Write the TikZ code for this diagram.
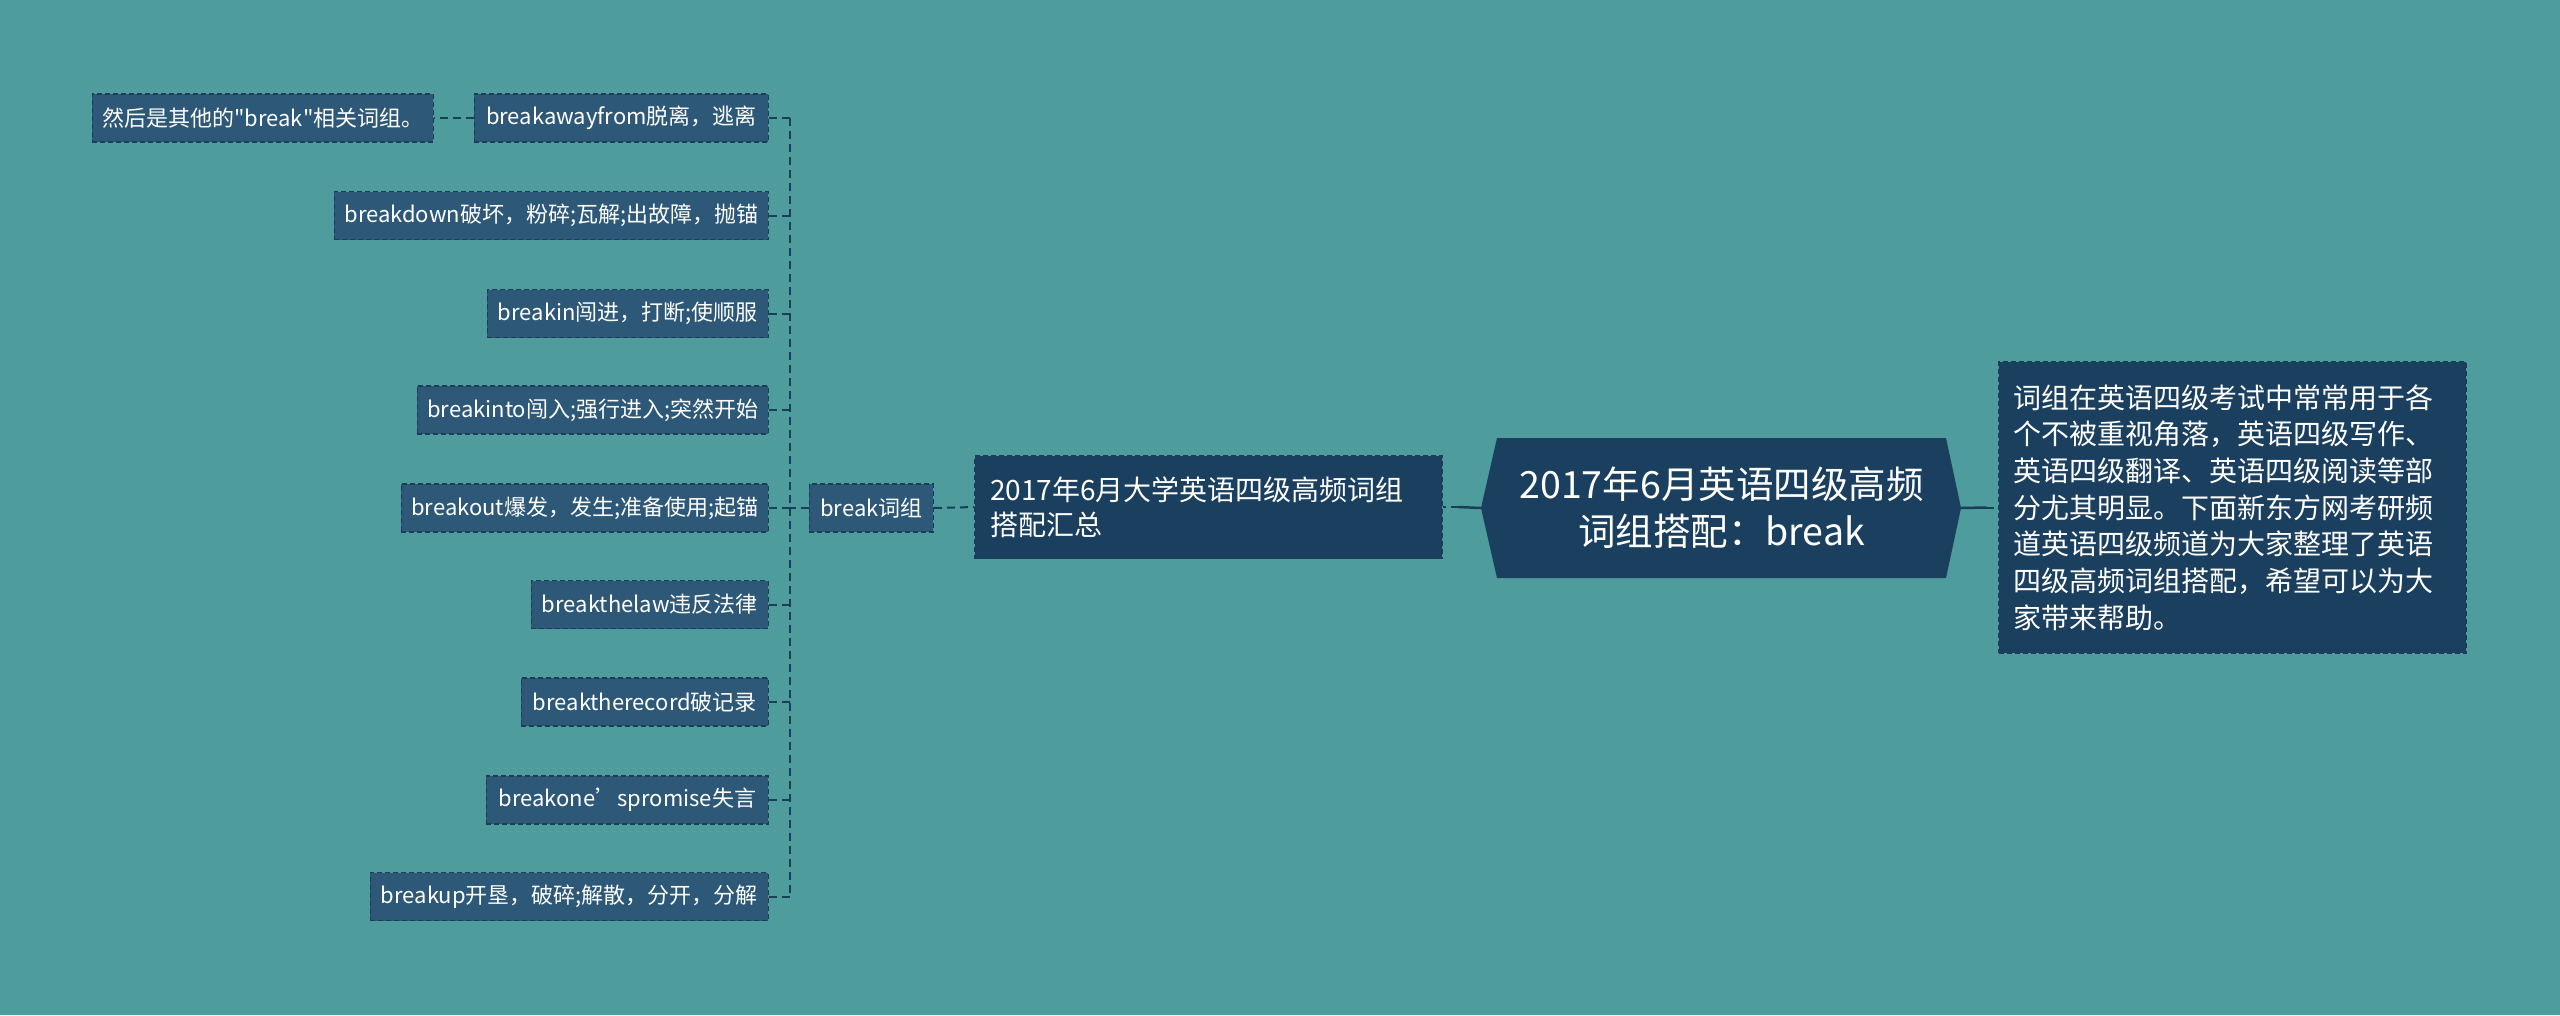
\documentclass[tikz,border=0pt]{standalone}
\usepackage{fontspec}
\setmainfont{Noto Sans CJK SC}[Ligatures=TeXOff]
\definecolor{bgc}{HTML}{4E9C9C}
\definecolor{leaf}{HTML}{2D5878}
\definecolor{deep}{HTML}{1A3F5F}
\definecolor{edgec}{HTML}{1B3D58}
\definecolor{linkc}{HTML}{1A3D5A}
\begin{document}
\begin{tikzpicture}[x=1pt,y=-1pt,
  leafbox/.style={draw=edgec, fill=leaf, dash pattern=on 5pt off 3pt, line width=1.2pt,
    text=white, font=\fontsize{22}{26}\selectfont, minimum height=48pt, inner sep=0pt, anchor=east},
  deepbox/.style={draw=edgec, fill=deep, dash pattern=on 5pt off 3pt, line width=1.2pt,
    text=white, inner sep=0pt},
  dlink/.style={draw=linkc, line width=2pt, dash pattern=on 8pt off 5pt},
  slink/.style={draw=linkc, line width=2.5pt}
]
\useasboundingbox (0,0) rectangle (2560,1015);
\fill[bgc] (0,0) rectangle (2560,1015);

% leaves
\node[leafbox, minimum width=341pt] (n0) at (434,118) {然后是其他的"break"相关词组。};
\node[leafbox, minimum width=294pt] (n1) at (769,118) {breakawayfrom脱离，逃离};
\node[leafbox, minimum width=434pt] (n2) at (769,215.5) {breakdown破坏，粉碎;瓦解;出故障，抛锚};
\node[leafbox, minimum width=281pt] (n3) at (769,313.5) {breakin闯进，打断;使顺服};
\node[leafbox, minimum width=351pt] (n4) at (769,410) {breakinto闯入;强行进入;突然开始};
\node[leafbox, minimum width=367pt] (n5) at (769,508) {breakout爆发，发生;准备使用;起锚};
\node[leafbox, minimum width=237pt] (n6) at (769,604.5) {breakthelaw违反法律};
\node[leafbox, minimum width=247pt] (n7) at (769,702) {breaktherecord破记录};
\node[leafbox, minimum width=282pt] (n8) at (769,800) {breakone’spromise失言};
\node[leafbox, minimum width=398pt] (n9) at (769,896.5) {breakup开垦，破碎;解散，分开，分解};

% break 词组
\node[leafbox, minimum width=124pt] (bw) at (934,508) {break词组};

% level 1 left
\node[deepbox, minimum width=467pt, minimum height=103pt, text width=437pt, align=left,
  font=\fontsize{28}{35}\selectfont] (sum) at (1208.5,507) {2017年6月大学英语四级高频词组\\搭配汇总};

% root hexagon
\fill[deep] (1481,508) -- (1497,438) -- (1946,438) -- (1961,508) -- (1946,578) -- (1497,578) -- cycle;
\node[minimum width=449pt, minimum height=140pt, inner sep=0pt, text=white, align=center,
  font=\fontsize{37.5}{47}\selectfont] (root) at (1721.5,508) {2017年6月英语四级高频\\词组搭配：break};

% right description
\node[deepbox, minimum width=467pt, minimum height=291pt, text width=439pt, align=left,
  font=\fontsize{28}{36.7}\selectfont] (desc) at (2232.5,507.5)
  {词组在英语四级考试中常常用于各\\个不被重视角落，英语四级写作、\\英语四级翻译、英语四级阅读等部\\分尤其明显。下面新东方网考研频\\道英语四级频道为大家整理了英语\\四级高频词组搭配，希望可以为大\\家带来帮助。};

% connectors
\coordinate (sp) at (790,0);
\draw[dlink] (n1.east -| sp) -- (n9.east -| sp);
\foreach \n in {n1,n2,n3,n4,n5,n6,n7,n8,n9}
  \draw[dlink] (\n.east) -- (\n.east -| sp);
\draw[dlink] (bw.west) -- (bw.west -| sp);
\draw[dlink] (n1.west) -- (n0.east);
\draw[dlink] (bw.east) -- (sum.west);
\draw[slink] ([xshift=-16pt]root.west) -- ([xshift=16pt]sum.east);
\draw[dlink] ([xshift=16pt]sum.east) -- (sum.east);
\draw[slink] ([xshift=15pt]root.east) -- ([xshift=-12pt]desc.west);
\draw[dlink] ([xshift=-12pt]desc.west) -- (desc.west);
\end{tikzpicture}
\end{document}
